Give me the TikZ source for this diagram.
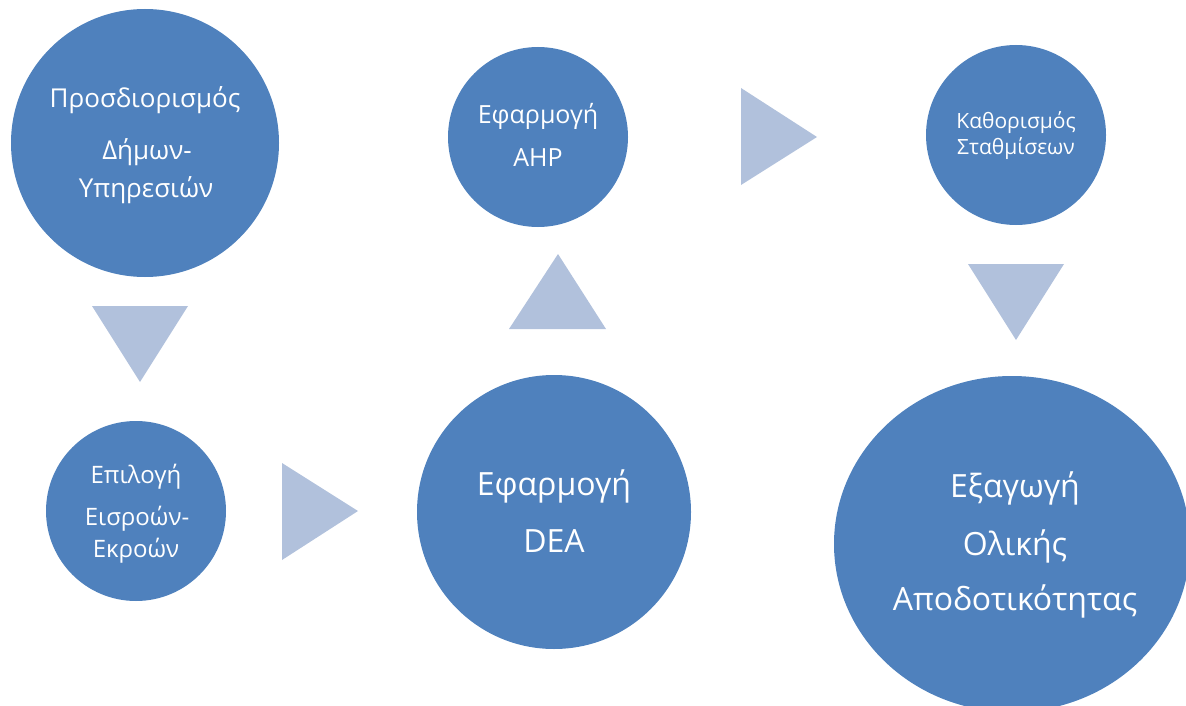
\documentclass[tikz,border=0pt]{standalone}
\usepackage{fontspec}
\setmainfont{Open Sans}
\usetikzlibrary{shapes.geometric}
\definecolor{circblue}{HTML}{4F81BD}
\definecolor{arrowblue}{HTML}{B1C1DC}
\tikzset{
  bubble/.style={circle, fill=circblue, draw=none, inner sep=0pt},
  oval/.style={ellipse, fill=circblue, draw=none, inner sep=0pt},
  chevron/.style={fill=arrowblue, draw=none},
  txt/.style={text=white, anchor=base, inner sep=0pt},
}
\begin{document}
\begin{tikzpicture}[x=1pt, y=-1pt]
\useasboundingbox (0,0) rectangle (1186,706);
\clip (0,0) rectangle (1186,706);
% circles
\node[bubble, minimum size=268pt] (c1) at (145,143) {};
\node[bubble, minimum size=180pt] (c2) at (136,511) {};
\node[bubble, minimum size=274pt] (c3) at (554,512) {};
\node[bubble, minimum size=180pt] (c4) at (538,137) {};
\node[bubble, minimum size=180pt] (c5) at (1016,135) {};
\node[oval, minimum width=356pt, minimum height=336pt] (c6) at (1012,544) {};
% triangles
\fill[chevron] (92,306) -- (188,306) -- (140,382) -- cycle;
\fill[chevron] (282,463) -- (282,560) -- (358,511) -- cycle;
\fill[chevron] (509,329) -- (606,329) -- (558,254) -- cycle;
\fill[chevron] (741,88) -- (741,185) -- (817,137) -- cycle;
\fill[chevron] (968,264) -- (1064,264) -- (1016,340) -- cycle;
% texts
\begin{scope}[every node/.style={txt}]
\node[font=\fontsize{26}{28}\selectfont] (t1a) at (145,108) {Προσδιορισμός};
\node[font=\fontsize{26}{28}\selectfont] (t1b) at (147,160) {Δήμων-};
\node[font=\fontsize{26}{28}\selectfont] (t1c) at (146,197) {Υπηρεσιών};
\node[font=\fontsize{24}{26}\selectfont] (t2a) at (136,483) {Επιλογή};
\node[font=\fontsize{24}{26}\selectfont] (t2b) at (137,525) {Εισροών-};
\node[font=\fontsize{24}{26}\selectfont] (t2c) at (136,557) {Εκροών};
\node[font=\fontsize{32}{34}\selectfont] (t3a) at (554,495) {Εφαρμογή};
\node[font=\fontsize{32}{34}\selectfont] (t3b) at (554,552) {DEA};
\node[font=\fontsize{25}{27}\selectfont] (t4a) at (538,124) {Εφαρμογή};
\node[font=\fontsize{25}{27}\selectfont] (t4b) at (538,167) {AHP};
\node[font=\fontsize{21}{23}\selectfont] (t5a) at (1016,129) {Καθορισμός};
\node[font=\fontsize{21}{23}\selectfont] (t5b) at (1016,155) {Σταθμίσεων};
\node[font=\fontsize{32}{34}\selectfont] (t6a) at (1015,497) {Εξαγωγή};
\node[font=\fontsize{32}{34}\selectfont] (t6b) at (1015,555) {Ολικής};
\node[font=\fontsize{32}{34}\selectfont] (t6c) at (1015,610) {Αποδοτικότητας};
\end{scope}
\end{tikzpicture}
\end{document}
